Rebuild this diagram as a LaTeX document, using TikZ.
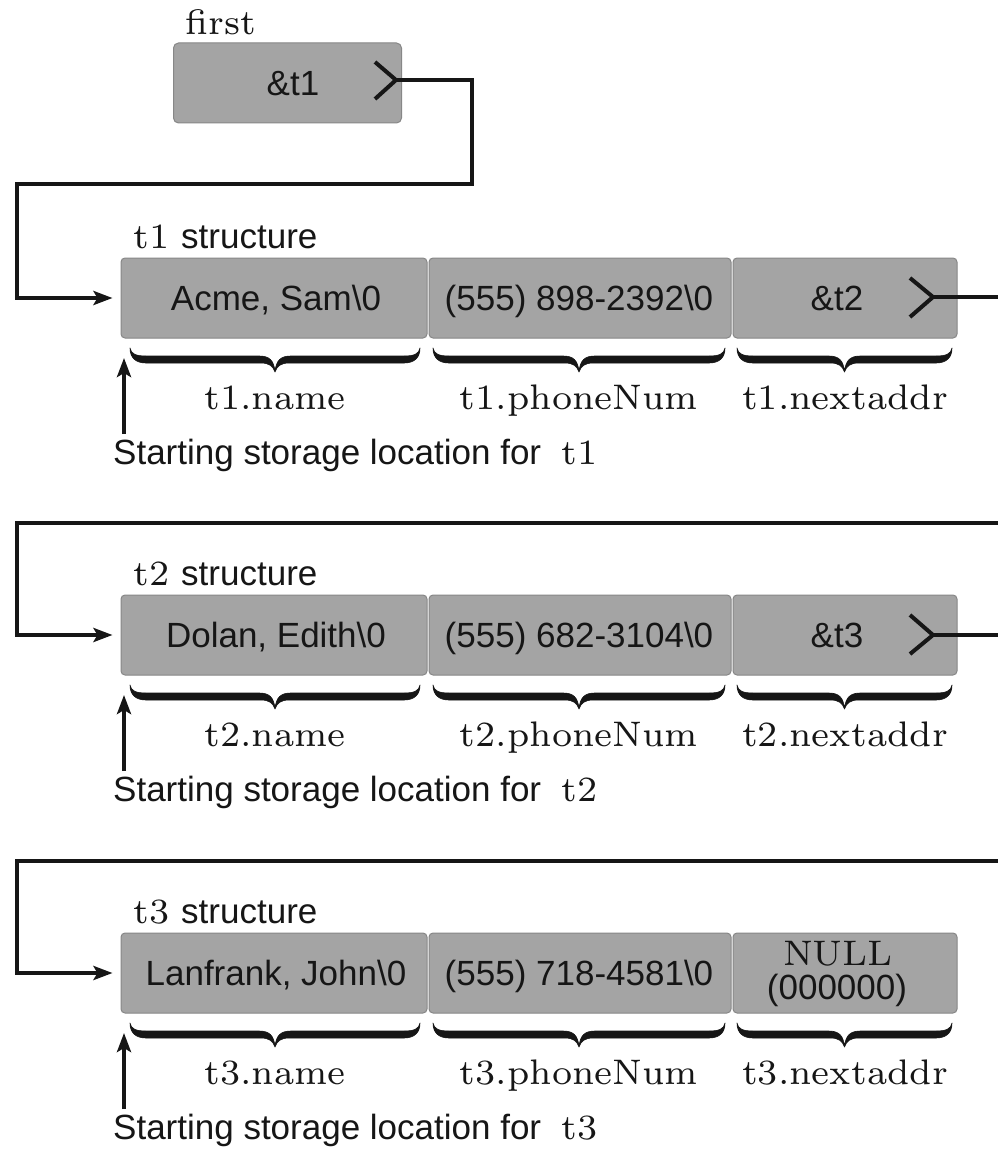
\documentclass[tikz,border=0pt]{standalone}
\usepackage{fontspec}
\setsansfont{Liberation Sans}
\newfontfamily\lmseven{lmroman7-regular.otf}
\usetikzlibrary{arrows.meta}
\definecolor{cellgray}{RGB}{164,164,164}
\definecolor{celledge}{RGB}{135,135,135}
\definecolor{ink}{RGB}{22,22,22}
\newcommand{\sansfnt}{\fontsize{35}{40}\selectfont\sffamily}
\newcommand{\seriffnt}{\fontsize{35.5}{40}\selectfont\lmseven}
\tikzset{
  cell/.style={draw=celledge, line width=1pt, fill=cellgray, rounded corners=4pt, inner sep=0pt, minimum height=80pt},
  sanstext/.style={font=\sansfnt, text=ink, inner sep=0pt},
  seriftext/.style={font=\seriffnt, text=ink, inner sep=0pt},
  link/.style={draw=ink, line width=4pt},
  linkarrow/.style={link, -{Stealth[length=19pt,width=14pt,inset=4pt]}},
  chevron/.style={draw=ink, line width=4pt},
  bracefill/.style={fill=ink, draw=ink, line width=0.6pt, line join=round},
}
% downward typographic brace from x=#1 to x=#2, top of arms at y=#3
\newcommand{\tbrace}[3]{%
  \pgfmathsetmacro{\bxm}{(#1+#2)/2}%
  \path[bracefill] (#1,#3) .. controls (#1+1,#3+6) and (#1+6,#3+8) .. (#1+16,#3+8)
    -- (\bxm-16,#3+8) .. controls (\bxm-6,#3+8) and (\bxm-1,#3+12) .. (\bxm,#3+24)
    .. controls (\bxm+1,#3+12) and (\bxm+6,#3+8) .. (\bxm+16,#3+8)
    -- (#2-16,#3+8) .. controls (#2-6,#3+8) and (#2-1,#3+6) .. (#2,#3)
    .. controls (#2,#3+10) and (#2-6,#3+15) .. (#2-16,#3+15)
    -- (\bxm+14,#3+15) .. controls (\bxm+6,#3+15) and (\bxm+2,#3+18) .. (\bxm,#3+24)
    .. controls (\bxm-2,#3+18) and (\bxm-6,#3+15) .. (\bxm-14,#3+15)
    -- (#1+16,#3+15) .. controls (#1+6,#3+15) and (#1,#3+10) .. (#1,#3) -- cycle;
}
\newcommand{\structrow}[4]{%
  \node[cell, minimum width=306pt] (name#1) at (274,#2+40) {};
  \node[cell, minimum width=302pt] (phone#1) at (580,#2+40) {};
  \node[cell, minimum width=224pt] (next#1) at (845,#2+40) {};
  \node[sanstext, anchor=base] (nametxt#1) at (276,#2+52) {#3};
  \node[sanstext, anchor=base] (phonetxt#1) at (579,#2+52) {#4};
  \node[anchor=base west, inner sep=0pt, text=ink] (struct#1) at (133,#2-10) {{\seriffnt t#1}\hspace{12pt}{\sansfnt structure}};
  \tbrace{130}{420}{#2+90}
  \tbrace{433}{725}{#2+90}
  \tbrace{737}{952}{#2+90}
  \node[seriftext, anchor=base] (fname#1) at (275,#2+151) {t#1.name};
  \node[seriftext, anchor=base] (fphone#1) at (579,#2+151) {t#1.phoneNum};
  \node[seriftext, anchor=base] (fnext#1) at (845,#2+151) {t#1.nextaddr};
  \node[anchor=base west, inner sep=0pt, text=ink] (start#1) at (113,#2+206) {{\sansfnt Starting storage location for}\hspace{20pt}{\seriffnt t#1}};
  \coordinate (ptrfoot#1) at (124,#2+176);
  \coordinate (ptrhead#1) at (124,#2+100);
  \draw[linkarrow] (ptrfoot#1) -- (ptrhead#1);
}
\begin{document}
\begin{tikzpicture}[x=1pt,y=-1pt]
\useasboundingbox (0,0) rectangle (997,1150);
\fill[white] (0,0) rectangle (997,1150);

% first pointer
\node[cell, minimum width=228pt, rounded corners=5pt] (firstbox) at (287.5,83) {};
\node[sanstext, anchor=base] (firsttxt) at (293,96) {\&t1};
\node[seriftext, anchor=base west] (firstlbl) at (185,35) {first};
\draw[chevron] (375,62) -- (396,80) -- (375,99);

% rows
\structrow{1}{258}{Acme, Sam\textbackslash 0}{(555) 898-2392\textbackslash 0}
\structrow{2}{595}{Dolan, Edith\textbackslash 0}{(555) 682-3104\textbackslash 0}
\structrow{3}{933}{Lanfrank, John\textbackslash 0}{(555) 718-4581\textbackslash 0}

% nextaddr contents
\node[sanstext, anchor=base] (nexttxt1) at (837,310) {\&t2};
\draw[chevron] (910,278) -- (933,297) -- (910,317);
\node[sanstext, anchor=base] (nexttxt2) at (837,647) {\&t3};
\draw[chevron] (910,615) -- (933,635) -- (910,654);
\node[seriftext, anchor=base] (nulltxt) at (838,965) {NULL};
\node[sanstext, anchor=base] (nullval) at (837,999) {(000000)};

% links
\coordinate (firsttip) at (396,80);
\coordinate (bendA) at (472,80);
\coordinate (bendB) at (472,184);
\coordinate (bendC) at (17,184);
\draw[linkarrow, shorten >=8pt] (firsttip) -- (bendA) -- (bendB) -- (bendC) |- (name1.west);

\coordinate (tip1) at (933,297);
\coordinate (exit1) at (1002,297);
\draw[link] (tip1) -- (exit1);
\coordinate (enter2) at (1002,523);
\coordinate (bend2) at (17,523);
\draw[linkarrow, shorten >=8pt] (enter2) -- (bend2) |- (name2.west);

\coordinate (tip2) at (933,635);
\coordinate (exit2) at (1002,635);
\draw[link] (tip2) -- (exit2);
\coordinate (enter3) at (1002,861);
\coordinate (bend3) at (17,861);
\draw[linkarrow, shorten >=8pt] (enter3) -- (bend3) |- (name3.west);
\end{tikzpicture}
\end{document}
